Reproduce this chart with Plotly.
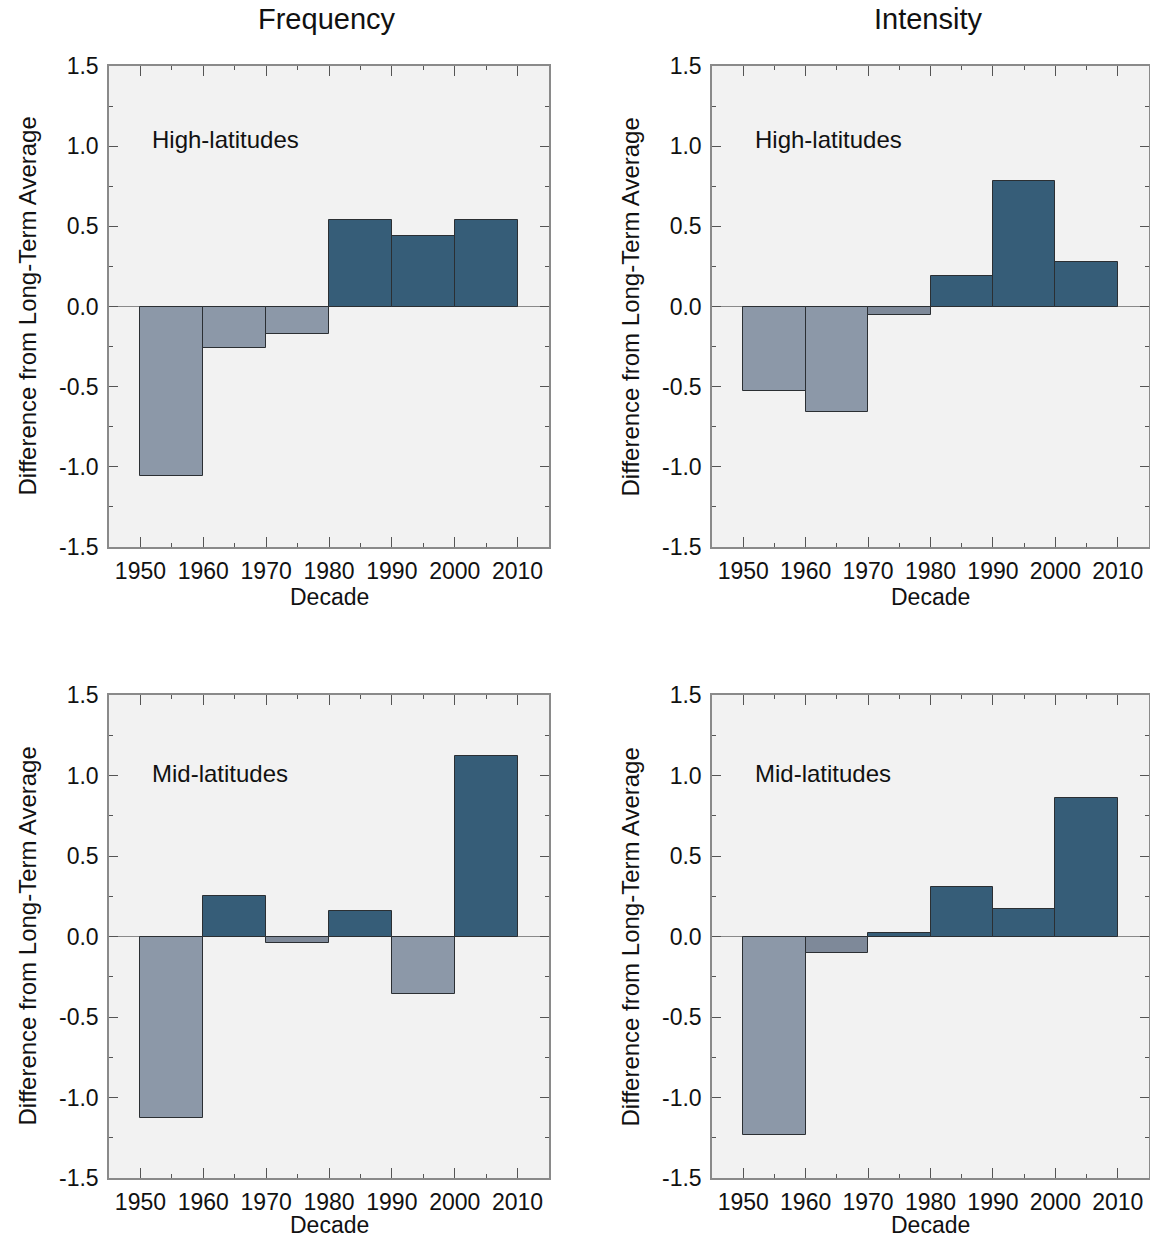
import plotly.graph_objects as go

decades = [1950, 1960, 1970, 1980, 1990, 2000]
freq_high = [-1.06, -0.26, -0.17, 0.54, 0.44, 0.54]
int_high = [-0.53, -0.66, -0.05, 0.19, 0.78, 0.28]
freq_mid = [-1.13, 0.25, -0.04, 0.16, -0.36, 1.12]
int_mid = [-1.23, -0.10, 0.02, 0.31, 0.17, 0.86]
x_ticks = [1950, 1960, 1970, 1980, 1990, 2000, 2010]
y_ticks = [-1.5, -1.0, -0.5, 0.0, 0.5, 1.0, 1.5]
col_titles = ["Frequency", "Intensity"]
row_labels = ["High-latitudes", "Mid-latitudes"]

W, H = 1150, 1239
DARK = "#365d78"
LIGHT = "#8c98a8"
MID = "#7e8999"
FONT = "Arial, Liberation Sans, sans-serif"

def colors(vals):
    out = []
    for v in vals:
        if v >= 0:
            out.append(DARK)
        elif v > -0.12:
            out.append(MID)
        else:
            out.append(LIGHT)
    return out

# panel pixel boxes: (x0, x1, y0_top, y1_bottom)
boxes = [
    (109, 549, 66, 547),
    (712, 1149, 66, 547),
    (109, 549, 695, 1178),
    (712, 1149, 695, 1178),
]
panels = [freq_high, int_high, freq_mid, int_mid]

fig = go.Figure()
layout = {}
annotations = []
for i, (vals, box) in enumerate(zip(panels, boxes)):
    n = "" if i == 0 else str(i + 1)
    xa, ya = "x" + n, "y" + n
    fig.add_trace(go.Bar(
        x=decades, y=vals, width=10, offset=0,
        marker=dict(color=colors(vals), line=dict(color="#2b2f33", width=1)),
        xaxis=xa, yaxis=ya, showlegend=False, hoverinfo="x+y",
    ))
    x0, x1, yt, yb = box
    common = dict(
        showline=True, linecolor="#8a8a8a", linewidth=1.5, mirror="ticks",
        ticks="inside", tickcolor="#555555", tickwidth=1,
        showgrid=False, automargin=False,
        tickfont=dict(family=FONT, size=23, color="#111111"),
    )
    layout["xaxis" + n] = dict(
        common, domain=[x0 / W, x1 / W], anchor=ya, range=[1945, 2015],
        tickmode="array", tickvals=x_ticks, ticktext=[str(t) for t in x_ticks],
        ticklen=10, zeroline=False, ticklabelstandoff=3,
        minor=dict(ticks="inside", ticklen=4, dtick=5, tick0=1945,
                   tickcolor="#555555", showgrid=False),
    )
    layout["yaxis" + n] = dict(
        common, domain=[1 - yb / H, 1 - yt / H], anchor=xa, range=[-1.5, 1.5],
        tickmode="array", tickvals=y_ticks, ticktext=["%.1f" % t for t in y_ticks],
        ticklen=9, zeroline=True, zerolinecolor="#8a8a8a", zerolinewidth=1,
        ticklabelstandoff=4,
        minor=dict(ticks="inside", ticklen=4, dtick=0.25, tick0=-1.5,
                   tickcolor="#555555", showgrid=False),
    )
    # panel label
    annotations.append(dict(
        text=row_labels[i // 2], xref=xa, yref=ya, x=1951.6,
        y=1.04 if i < 2 else 1.01, xanchor="left", yanchor="middle",
        showarrow=False, font=dict(family=FONT, size=24, color="#111111"),
    ))
    # x axis title
    annotations.append(dict(
        text="Decade", xref="paper", yref="paper", x=(x0 + x1) / 2 / W,
        y=1 - (yb + (50 if i < 2 else 47)) / H, xanchor="center", yanchor="middle",
        showarrow=False, font=dict(family=FONT, size=23, color="#111111"),
    ))
    # y axis title
    annotations.append(dict(
        text="Difference from Long-Term Average", xref="paper", yref="paper",
        x=(x0 - 82) / W, y=1 - (yt + yb) / 2 / H, xanchor="center",
        yanchor="middle", textangle=-90, showarrow=False,
        font=dict(family=FONT, size=24, color="#111111"),
    ))

for j, t in enumerate(col_titles):
    x0, x1 = boxes[j][0], boxes[j][1]
    annotations.append(dict(
        text=t, xref="paper", yref="paper", x=((x0 + x1) / 2 - 2) / W,
        y=1 - 19 / H, xanchor="center", yanchor="middle", showarrow=False,
        font=dict(family=FONT, size=29, color="#111111"),
    ))

fig.update_layout(
    **layout,
    annotations=annotations,
    width=W, height=H,
    margin=dict(l=0, r=0, t=0, b=0),
    paper_bgcolor="white", plot_bgcolor="#f2f2f2",
    bargap=0, showlegend=False, template="none",
)
fig.write_html(
    "out.html",
    config={"displayModeBar": False},
    post_script="document.body.style.margin='0';document.body.style.overflow='hidden';",
)
